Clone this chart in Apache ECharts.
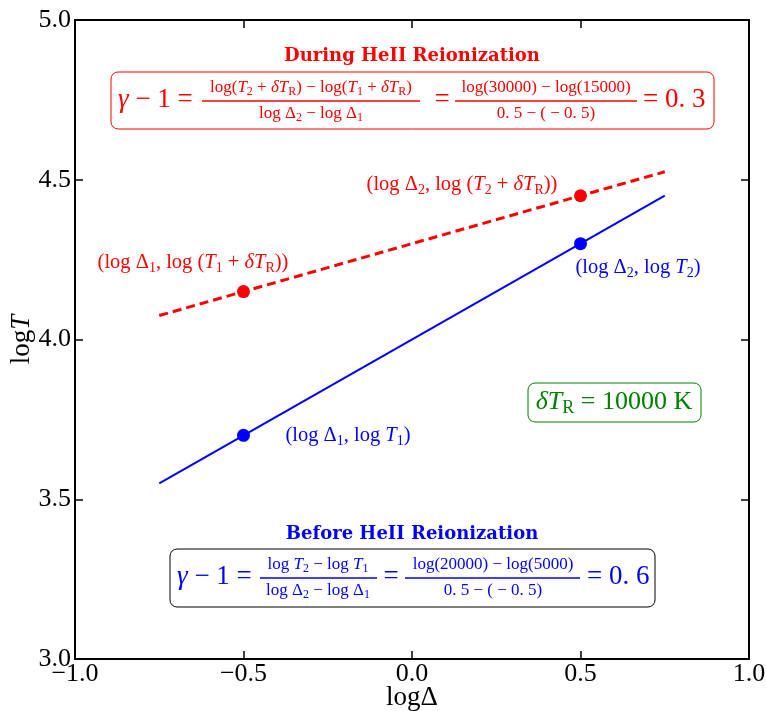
<!DOCTYPE html>
<html>
<head>
<meta charset="utf-8">
<script src="https://cdn.jsdelivr.net/npm/echarts@6/dist/echarts.min.js"></script>
<style>
  html, body { margin: 0; padding: 0; background: #fff; }
  #chart { width: 766px; height: 711px; }
</style>
</head>
<body>
<div id="chart"></div>
<script>
// Axis ticks
const xTicks = [-1.0, -0.5, 0.0, 0.5, 1.0];
const yTicks = [3.0, 3.5, 4.0, 4.5, 5.0];

// Temperature-density relation lines (log Delta vs log T)
const lineDelta = [-0.75, 0.75];
const lineTBefore = [3.55, 4.45];   // slope 0.6
const lineTDuring = [4.075, 4.525]; // slope 0.3

// Marked reference points
const pointDelta = [-0.5, 0.5];
const pointTBefore = [3.7, 4.3];
const pointTDuring = [4.15, 4.45];

const RED = '#ff0000', BLUE = '#0000ff', GREEN = '#008000';
const MATH_FONT = '"Liberation Serif", "DejaVu Serif", serif';
const TITLE_FONT = '"DejaVu Serif", serif';
const ITALIC = new Set(['T', 'δ', 'γ']);

// Turn a small math string into rich text: "_x" is a subscript,
// T, δ and γ are set in italic, everything else upright.
function mathRich(src, size, color) {
  const rich = {
    r: { fontFamily: MATH_FONT, fontSize: size, fill: color, lineHeight: size * 1.2 },
    i: { fontFamily: MATH_FONT, fontSize: size, fontStyle: 'italic', fill: color, lineHeight: size * 1.2 },
    s: { fontFamily: MATH_FONT, fontSize: Math.round(size * 0.7), fill: color, lineHeight: size * 0.6, verticalAlign: 'bottom' }
  };
  let out = '', buf = '', cur = null;
  const flush = () => { if (buf) out += '{' + cur + '|' + buf + '}'; buf = ''; };
  for (let k = 0; k < src.length; k++) {
    let ch = src[k], st;
    if (ch === '_') { k++; ch = src[k]; st = 's'; }
    else st = ITALIC.has(ch) ? 'i' : 'r';
    if (st !== cur) { flush(); cur = st; }
    buf += ch;
  }
  flush();
  return { text: out, rich };
}

function mtext(src, x, y, size, color, align) {
  const m = mathRich(src, size, color);
  return {
    type: 'text', x, y, z: 10,
    style: { text: m.text, rich: m.rich, align: align || 'center', verticalAlign: 'middle',
             fill: color, fontSize: size, fontFamily: MATH_FONT }
  };
}

function frac(num, den, cx, x0, x1, barY, size, color) {
  return [
    mtext(num, cx, barY - 13, size, color),
    mtext(den, cx, barY + 13, size, color),
    { type: 'rect', z: 10, shape: { x: x0, y: barY - 0.75, width: x1 - x0, height: 1.5 }, style: { fill: color } }
  ];
}

function box(x, y, w, h, stroke) {
  return { type: 'rect', z: 9, shape: { x, y, width: w, height: h, r: 7 },
           style: { fill: '#fff', stroke, lineWidth: 1 } };
}

function title(text, cx, cy, color) {
  return { type: 'text', x: cx, y: cy, z: 10,
           style: { text, fill: color, fontFamily: TITLE_FONT, fontWeight: 'bold', fontSize: 18,
                    align: 'center', verticalAlign: 'middle' } };
}

const BIG = 27, SMALL = 17, NOTE = 20.5;

const graphics = [
  // During HeII reionization
  title('During HeII Reionization', 412, 56, RED),
  box(111, 72, 603, 57, RED),
  mtext('γ − 1 =', 118, 100, BIG, RED, 'left'),
  ...frac('log(T_2 + δT_R) − log(T_1 + δT_R)', 'log Δ_2 − log Δ_1', 311, 202, 420, 101, SMALL, RED),
  mtext('=', 442, 100, BIG, RED),
  ...frac('log(30000) − log(15000)', '0. 5 − ( − 0. 5)', 546, 455, 637, 101, SMALL, RED),
  mtext('= 0. 3', 643, 100, BIG, RED, 'left'),

  // Before HeII reionization
  title('Before HeII Reionization', 412, 534, BLUE),
  box(170, 549, 485, 58, '#000'),
  mtext('γ − 1 =', 177, 577, BIG, BLUE, 'left'),
  ...frac('log T_2 − log T_1', 'log Δ_2 − log Δ_1', 318, 260, 377, 578, SMALL, BLUE),
  mtext('=', 391, 577, BIG, BLUE),
  ...frac('log(20000) − log(5000)', '0. 5 − ( − 0. 5)', 493, 405, 580, 578, SMALL, BLUE),
  mtext('= 0. 6', 587, 577, BIG, BLUE, 'left'),

  // Reionization heating
  box(528, 383, 173, 39, GREEN),
  mtext('δT_R = 10000 K', 614, 402, 26, GREEN),

  // Point annotations
  mtext('(log Δ_1, log (T_1 + δT_R))', 193, 263, NOTE, RED),
  mtext('(log Δ_2, log (T_2 + δT_R))', 462, 185, NOTE, RED),
  mtext('(log Δ_2, log T_2)', 638, 268, NOTE, BLUE),
  mtext('(log Δ_1, log T_1)', 348, 436, NOTE, BLUE)
];

const fmt = v => v.toFixed(1).replace('-', '−');
const frame = { show: true, onZero: false, lineStyle: { color: '#000', width: 2 } };
const ticks = { show: true, inside: true, length: 8, lineStyle: { color: '#000', width: 1.5 } };
const tickLabel = { fontFamily: MATH_FONT, fontSize: 26, color: '#000' };

const chart = echarts.init(document.getElementById('chart'), null, { renderer: 'canvas' });
chart.setOption({
  animation: false,
  backgroundColor: '#fff',
  grid: { left: 75, right: 17, top: 20, bottom: 52, containLabel: false, outerBoundsMode: 'none' },
  xAxis: [
    { type: 'value', min: xTicks[0], max: xTicks[xTicks.length - 1], interval: xTicks[1] - xTicks[0],
      position: 'bottom', axisLine: frame, axisTick: ticks, splitLine: { show: false },
      axisLabel: Object.assign({ formatter: fmt, margin: 2 }, tickLabel),
      name: '{r|log}{r|Δ}', nameLocation: 'middle', nameGap: 25, nameMoveOverlap: false,
      nameTextStyle: { rich: { r: { fontFamily: MATH_FONT, fontSize: 27, color: '#000' } } } },
    { type: 'value', min: xTicks[0], max: xTicks[xTicks.length - 1], interval: xTicks[1] - xTicks[0],
      position: 'top', axisLine: frame, axisTick: ticks, axisLabel: { show: false }, splitLine: { show: false } }
  ],
  yAxis: [
    { type: 'value', min: yTicks[0], max: yTicks[yTicks.length - 1], interval: yTicks[1] - yTicks[0],
      position: 'left', axisLine: frame, axisTick: ticks, splitLine: { show: false },
      axisLabel: Object.assign({ formatter: fmt, margin: 4 }, tickLabel),
      name: '{r|log}{i|T}', nameLocation: 'middle', nameGap: 40, nameRotate: 90, nameMoveOverlap: false,
      nameTextStyle: { rich: {
        r: { fontFamily: MATH_FONT, fontSize: 27, color: '#000' },
        i: { fontFamily: MATH_FONT, fontSize: 27, fontStyle: 'italic', color: '#000' } } } },
    { type: 'value', min: yTicks[0], max: yTicks[yTicks.length - 1], interval: yTicks[1] - yTicks[0],
      position: 'right', axisLine: frame, axisTick: ticks, axisLabel: { show: false }, splitLine: { show: false } }
  ],
  series: [
    { type: 'line', name: 'before', symbol: 'none', silent: true,
      data: lineDelta.map((x, i) => [x, lineTBefore[i]]),
      lineStyle: { color: BLUE, width: 2 } },
    { type: 'line', name: 'during', symbol: 'none', silent: true,
      data: lineDelta.map((x, i) => [x, lineTDuring[i]]),
      lineStyle: { color: RED, width: 3, type: [9, 5] } },
    { type: 'scatter', name: 'before points', symbolSize: 13, silent: true,
      data: pointDelta.map((x, i) => [x, pointTBefore[i]]),
      itemStyle: { color: BLUE, opacity: 1 } },
    { type: 'scatter', name: 'during points', symbolSize: 13, silent: true,
      data: pointDelta.map((x, i) => [x, pointTDuring[i]]),
      itemStyle: { color: RED, opacity: 1 } }
  ],
  graphic: graphics
});
</script>
</body>
</html>
